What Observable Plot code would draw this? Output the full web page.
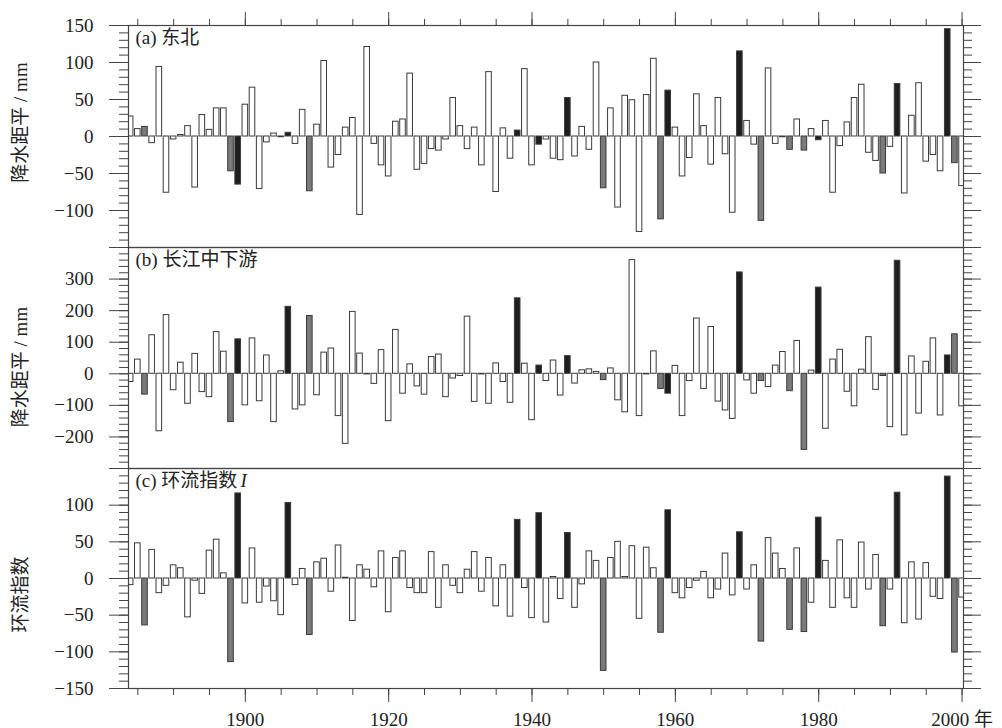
<!DOCTYPE html>
<html><head><meta charset="utf-8">
<script src="https://cdn.jsdelivr.net/npm/d3@7"></script>
<script src="https://cdn.jsdelivr.net/npm/@observablehq/plot@0.6"></script>
<style>
body{margin:0;background:#fff}
#chart{position:relative;width:1002px;height:728px}
#chart svg{position:absolute;left:0}
#chart svg text{font-family:"Liberation Serif","Noto Sans CJK SC",serif !important}
</style>
</head><body><div id="chart"></div>
<script>
const years = d3.range(1884, 2001);
// (a) 东北 precipitation anomaly, mm
const northeast = [27,10,13,-9,94,-76,-4,2,14,-69,
 29,9,38,38,-47,-65,43,66,-71,-8,
 4,-1,5,-10,36,-74,16,102,-42,-25,
 12,25,-106,121,-10,-39,-54,20,23,85,
 -45,-37,-17,-19,-4,52,14,-17,12,-39,
 87,-75,11,-30,8,91,-39,-11,-4,-30,
 -32,52,-27,13,-18,100,-70,38,-96,55,
 49,-129,56,105,-112,62,12,-54,-29,57,
 14,-38,52,-24,-103,115,21,-11,-114,92,
 -10,-1,-18,23,-19,10,-5,21,-76,-13,
 19,52,70,-22,-33,-50,-14,71,-77,28,
 72,-34,-25,-47,145,-36,-67];
// (b) 长江中下游 precipitation anomaly, mm
const yangtze = [-26,45,-66,122,-182,186,-52,35,-95,63,
 -58,-74,132,70,-153,109,-100,112,-87,58,
 -153,8,212,-113,-100,183,-68,67,80,-134,
 -222,196,64,-2,-32,75,-150,139,-63,30,
 -40,-66,53,61,-74,-15,-7,181,-89,-2,
 -95,33,-26,-92,239,32,-147,26,-23,42,
 -69,56,-31,11,14,6,-20,17,-84,-122,
 360,-134,-2,71,-48,-63,25,-134,-23,175,
 -48,148,-88,-116,-143,321,-21,-63,-23,-42,
 26,69,-55,104,-241,10,273,-174,45,76,
 -57,-103,13,116,-51,-7,-169,358,-195,55,
 -126,38,112,-132,58,125,-103];
// (c) 环流指数 I
const circulation = [-9,48,-64,39,-20,-10,18,14,-53,-3,
 -21,38,53,7,-114,116,-34,41,-33,-11,
 -31,-50,103,-9,13,-77,22,27,-18,45,
 1,-58,18,12,-12,37,-46,28,37,-13,
 -20,-20,36,-40,18,-10,-20,12,36,-18,
 28,-38,18,-52,80,-13,-54,89,-60,2,
 -28,62,-40,-8,37,24,-126,28,50,2,
 44,-55,42,14,-74,93,-20,-27,-13,-3,
 9,-27,-15,34,-23,63,-15,18,-86,55,
 34,13,-70,41,-73,-33,83,24,-40,52,
 -27,-40,49,-15,32,-65,-15,117,-61,22,
 -56,21,-25,-28,139,-101,-26];
const highYears = [1899,1906,1938,1941,1945,1959,1969,1980,1991,1998];
const lowYears = [1886,1898,1909,1950,1958,1972,1976,1978,1989,1999];
const xMajor = [1900,1920,1940,1960,1980,2000];
const xMinor = d3.range(1885, 2001, 5);
const catNames = ["normal","low","high"];
const catColors = ["#ffffff","#7a7a7a","#1e1e1e"];

const FONT = '"Liberation Serif","Noto Sans CJK SC",serif';
const INK = "#444";

function panel(o) {
  const data = years.map((year, i) => ({
    year, v: o.values[i],
    cat: highYears.includes(year) ? "high" : lowYears.includes(year) ? "low" : "normal"
  }));
  const fmt = d => o.labeled.includes(d) ? (d < 0 ? "\u2212" + Math.abs(d) : String(d)) : "";
  const blank = () => "";
  const marks = [
    Plot.rect(data, {x1: d => d.year - 0.39, x2: d => d.year + 0.39, y1: 0, y2: "v",
      fill: "cat", stroke: "#3a3a3a", strokeWidth: 1, clip: true}),
    Plot.frame({stroke: INK, strokeWidth: 1.2}),
    Plot.axisY({anchor: "left", ticks: o.major, tickSize: 19, tickPadding: 16, tickFormat: fmt, label: null, stroke: INK, fontSize: 19, fontFamily: FONT}),
    Plot.axisY({anchor: "left", ticks: o.minor, tickSize: 9, tickFormat: blank, label: null, stroke: INK}),
    Plot.axisY({anchor: "right", ticks: o.major, tickSize: 17, tickFormat: blank, label: null, stroke: INK}),
    Plot.axisY({anchor: "right", ticks: o.minor, tickSize: 8, tickFormat: blank, label: null, stroke: INK}),
    Plot.text([o.title], {frameAnchor: "left", textAnchor: "middle", rotate: -90, dx: -108, dy: o.titleDy, text: d => d, fontSize: 19, fill: "#222", fontFamily: FONT}),
    Plot.text([o.tag], {frameAnchor: "top-left", lineAnchor: "top", textAnchor: "start", dx: 7, dy: 5, text: d => d, fontSize: 19, fill: "#222", fontFamily: FONT})
  ];
  if (o.tagItalic) marks.push(Plot.text([o.tagItalic], {frameAnchor: "top-left", lineAnchor: "top", textAnchor: "start", dx: 112, dy: 5, text: d => d, fontSize: 19, fontStyle: "italic", fill: "#222", fontFamily: FONT}));
  if (o.topAxis) {
    marks.push(Plot.axisX({anchor: "top", ticks: xMajor, tickSize: 14, tickFormat: blank, label: null, stroke: INK}));
    marks.push(Plot.axisX({anchor: "top", ticks: xMinor, tickSize: 7, tickFormat: blank, label: null, stroke: INK}));
  }
  if (o.bottomAxis) {
    marks.push(Plot.axisX({anchor: "bottom", ticks: xMajor, tickSize: 14, tickPadding: 10, label: null, stroke: INK, fontSize: 19, fontFamily: FONT,
      tickFormat: d => d === 2000 ? "2000 年" : String(d)}));
    marks.push(Plot.axisX({anchor: "bottom", ticks: xMinor, tickSize: 7, tickFormat: blank, label: null, stroke: INK}));
  }
  const svg = Plot.plot({
    width: 1002, height: o.height,
    marginLeft: 128, marginRight: 39, marginTop: o.marginTop, marginBottom: o.marginBottom,
    x: {domain: [1883.7, 2000.2], axis: null},
    y: {domain: o.domain, axis: null},
    color: {type: "ordinal", domain: catNames, range: catColors},
    style: {fontFamily: FONT, fontSize: "19px", background: "transparent", overflow: "visible", color: "#222"},
    marks
  });
  svg.style.top = o.top + "px";
  return svg;
}

const chart = document.getElementById("chart");
chart.append(panel({
  values: northeast, domain: [-150, 150],
  major: d3.range(-150, 151, 50), minor: d3.range(-150, 151, 10), labeled: [150, 100, 50, 0, -50, -100],
  title: "降水距平 / mm", titleDy: -14, tag: "(a) 东北",
  top: 0, height: 247, marginTop: 25, marginBottom: 0, topAxis: true
}));
chart.append(panel({
  values: yangtze, domain: [-300, 400],
  major: d3.range(-300, 401, 100), minor: d3.range(-300, 401, 20), labeled: [300, 200, 100, 0, -100, -200],
  title: "降水距平 / mm", titleDy: 9, tag: "(b) 长江中下游",
  top: 247, height: 221, marginTop: 0, marginBottom: 0
}));
chart.append(panel({
  values: circulation, domain: [-150, 150],
  major: d3.range(-150, 151, 50), minor: d3.range(-150, 151, 10), labeled: [100, 50, 0, -50, -100, -150],
  title: "环流指数", titleDy: 16, tag: "(c) 环流指数", tagItalic: "I",
  top: 468, height: 260, marginTop: 0, marginBottom: 40, bottomAxis: true
}));
</script>
</body></html>
